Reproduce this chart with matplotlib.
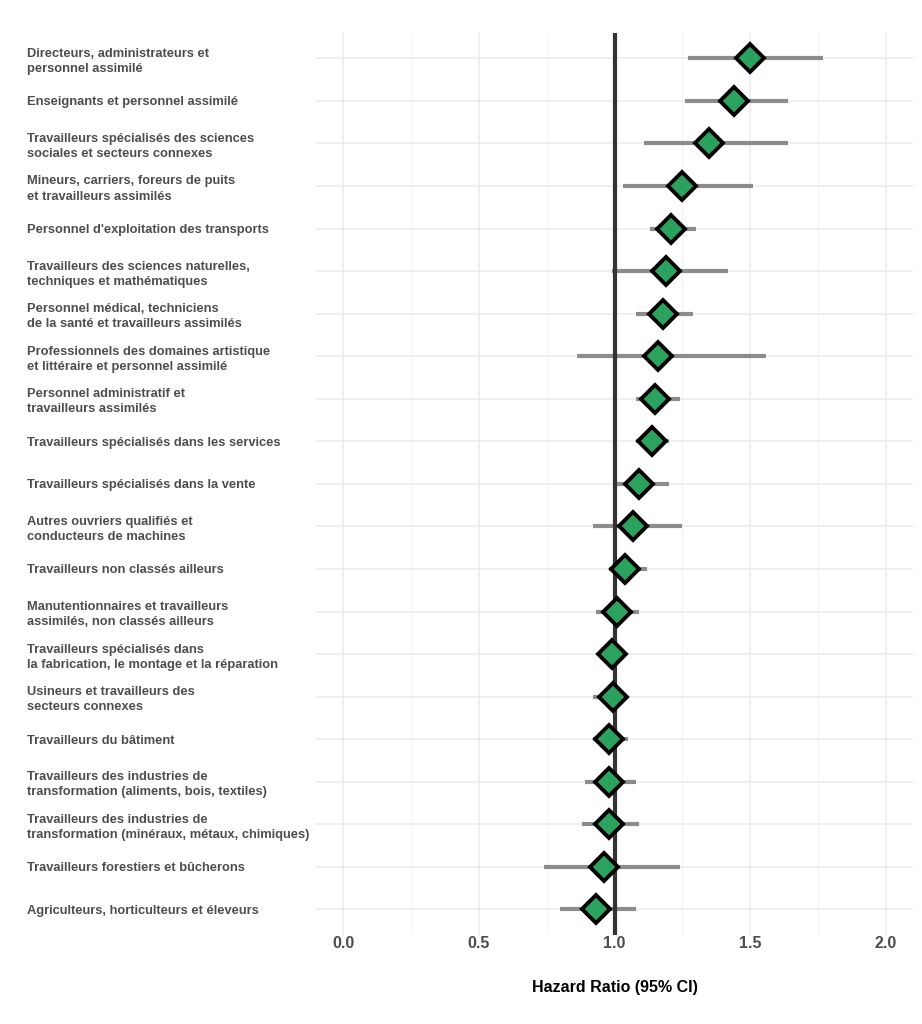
import numpy as np
import matplotlib
matplotlib.use("Agg")
import matplotlib.pyplot as plt
from matplotlib.ticker import MultipleLocator

plt.rcParams['font.family'] = ['Liberation Sans', 'DejaVu Sans']

# categories top to bottom
labels = [
    "Directeurs, administrateurs et\npersonnel assimilé",
    "Enseignants et personnel assimilé",
    "Travailleurs spécialisés des sciences\nsociales et secteurs connexes",
    "Mineurs, carriers, foreurs de puits\net travailleurs assimilés",
    "Personnel d'exploitation des transports",
    "Travailleurs des sciences naturelles,\ntechniques et mathématiques",
    "Personnel médical, techniciens\nde la santé et travailleurs assimilés",
    "Professionnels des domaines artistique\net littéraire et personnel assimilé",
    "Personnel administratif et\ntravailleurs assimilés",
    "Travailleurs spécialisés dans les services",
    "Travailleurs spécialisés dans la vente",
    "Autres ouvriers qualifiés et\nconducteurs de machines",
    "Travailleurs non classés ailleurs",
    "Manutentionnaires et travailleurs\nassimilés, non classés ailleurs",
    "Travailleurs spécialisés dans\nla fabrication, le montage et la réparation",
    "Usineurs et travailleurs des\nsecteurs connexes",
    "Travailleurs du bâtiment",
    "Travailleurs des industries de\ntransformation (aliments, bois, textiles)",
    "Travailleurs des industries de\ntransformation (minéraux, métaux, chimiques)",
    "Travailleurs forestiers et bûcherons",
    "Agriculteurs, horticulteurs et éleveurs",
]
hr = [1.50, 1.44, 1.35, 1.25, 1.21, 1.19, 1.18, 1.16, 1.15, 1.14, 1.09,
      1.07, 1.04, 1.01, 0.99, 0.995, 0.98, 0.98, 0.98, 0.96, 0.93]
ci_low = [1.27, 1.26, 1.11, 1.03, 1.13, 0.99, 1.08, 0.86, 1.08, 1.08, 1.00,
          0.92, 0.98, 0.93, 0.96, 0.92, 0.92, 0.89, 0.88, 0.74, 0.80]
ci_high = [1.77, 1.64, 1.64, 1.51, 1.30, 1.42, 1.29, 1.56, 1.24, 1.20, 1.20,
           1.25, 1.12, 1.09, 1.03, 1.05, 1.05, 1.08, 1.09, 1.24, 1.08]

n = len(labels)
y = np.arange(n)[::-1]

fig = plt.figure(figsize=(9.22, 10.24), dpi=100)
ax = fig.add_axes([0.343, 0.087, 0.647, 0.881])

ax.hlines(y, ci_low, ci_high, color='#8c8c8c', lw=3, zorder=2)
ax.axvline(1.0, color='#333333', lw=3, zorder=3)
ax.plot(hr, y, 'D', ms=14, mfc='#2ca25f', mec='black', mew=2.8, zorder=4)

ax.set_xlim(-0.1, 2.1)
ax.set_ylim(-0.6, n - 0.4)
ax.xaxis.set_major_locator(MultipleLocator(0.5))
ax.xaxis.set_minor_locator(MultipleLocator(0.25))
ax.set_xticks(np.arange(0, 2.01, 0.5))
ax.set_xticklabels(['0.0', '0.5', '1.0', '1.5', '2.0'])
ax.set_yticks(y)
ax.set_yticklabels(labels)

ax.grid(True, which='major', color='#ebebeb', lw=1.1)
ax.grid(True, which='minor', axis='x', color='#f2f2f2', lw=0.7)
ax.set_axisbelow(True)
for s in ax.spines.values():
    s.set_visible(False)
ax.tick_params(which='both', length=0)
ax.tick_params(axis='x', pad=1, labelsize=11.5, labelcolor='#4d4d4d')
ax.tick_params(axis='y', pad=208, labelsize=9.3, labelcolor='#4d4d4d')
for t in ax.get_yticklabels():
    t.set_horizontalalignment('left')
    t.set_fontweight('bold')
    t.set_linespacing(1.35)
for t in ax.get_xticklabels():
    t.set_fontweight('bold')

ax.set_xlabel('Hazard Ratio (95% CI)', fontsize=11.5, fontweight='bold',
              color='black', labelpad=21)

fig.savefig('out.png', dpi=100)
